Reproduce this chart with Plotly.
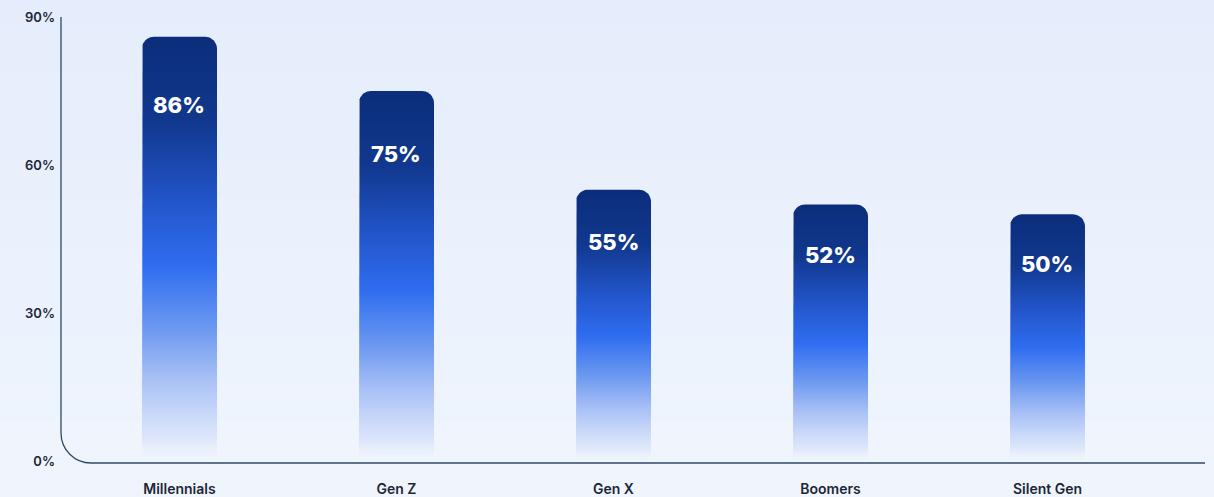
import math
import plotly.graph_objects as go

# Share of each generation (percent)
generations = ["Millennials", "Gen Z", "Gen X", "Boomers", "Silent Gen"]
shares = [86, 75, 55, 52, 50]
y_ticks = [0, 30, 60, 90]
y_tick_labels = ["0%", "30%", "60%", "90%"]

# Canvas / layout geometry
FIG_W, FIG_H = 1214, 497
M_L, M_R, M_T, M_B = 61, 9, 17, 34
PLOT_W = FIG_W - M_L - M_R
PLOT_H = FIG_H - M_T - M_B
X_RANGE = [-0.546, -0.546 + PLOT_W / 217.0]
Y_RANGE = [-0.4, 90]

px_per_x = PLOT_W / (X_RANGE[1] - X_RANGE[0])
px_per_y = PLOT_H / (Y_RANGE[1] - Y_RANGE[0])

BAR_W_PX = 75
CORNER_PX = 12
bar_w = BAR_W_PX / px_per_x
rx = CORNER_PX / px_per_x
ry = CORNER_PX / px_per_y

TEXT_DARK = "#1c2735"
AXIS_COLOR = "#2c4a68"
FONT = "Inter"

# vertical gradient: faded at the base, bright blue a bit below the middle, navy on top
BAR_SCALE = [
    [0.00, "rgba(236,242,253,0.0)"],
    [0.05, "rgba(222,231,251,1)"],
    [0.10, "rgba(205,219,249,1)"],
    [0.20, "rgba(165,190,245,1)"],
    [0.32, "rgba(105,150,240,1)"],
    [0.46, "rgba(47,109,240,1)"],
    [0.62, "rgba(34,84,200,1)"],
    [0.80, "rgba(17,56,142,1)"],
    [1.00, "rgba(11,45,123,1)"],
]

K = 0.5523  # cubic approximation of a quarter circle


def rounded_bar(xc, h):
    """Outline of a bar with rounded top corners, in data units."""
    x0, x1 = xc - bar_w / 2, xc + bar_w / 2
    xs, ys = [x0, x0], [0, h - ry]
    n = 10
    for i in range(1, n + 1):
        a = math.pi - (math.pi / 2) * i / n
        xs.append(x0 + rx + rx * math.cos(a))
        ys.append(h - ry + ry * math.sin(a))
    for i in range(0, n + 1):
        a = math.pi / 2 - (math.pi / 2) * i / n
        xs.append(x1 - rx + rx * math.cos(a))
        ys.append(h - ry + ry * math.sin(a))
    xs += [x1, x0]
    ys += [0, 0]
    return xs, ys


fig = go.Figure()

for i, (name, v) in enumerate(zip(generations, shares)):
    xs, ys = rounded_bar(i, v)
    fig.add_trace(go.Scatter(
        x=xs, y=ys, mode="lines", fill="toself",
        line=dict(width=0),
        fillgradient=dict(type="vertical", colorscale=BAR_SCALE, start=0, stop=v),
        hoverinfo="skip", showlegend=False, name=name,
    ))
    fig.add_annotation(
        x=i, y=v, xref="x", yref="y",
        text=f"{v}%", showarrow=False,
        yanchor="middle", yshift=-(25 + 0.5 * v),
        font=dict(family=FONT, size=22, color="white", weight=800),
    )

# soft vertical background wash
shapes = []
top_rgb = (229, 237, 252)
bot_rgb = (240, 245, 253)
n_bands = 40
for j in range(n_bands):
    t = j / (n_bands - 1)
    c = tuple(round(top_rgb[k] + (bot_rgb[k] - top_rgb[k]) * t) for k in range(3))
    y_top = 1 + M_T / PLOT_H - (j / n_bands) * (FIG_H / PLOT_H)
    y_bot = 1 + M_T / PLOT_H - ((j + 1) / n_bands) * (FIG_H / PLOT_H)
    shapes.append(dict(
        type="rect", xref="paper", yref="paper", layer="below",
        x0=-M_L / PLOT_W - 0.01, x1=1 + M_R / PLOT_W + 0.01,
        y0=y_bot - 0.002, y1=y_top + 0.002,
        fillcolor=f"rgb{c}", line=dict(width=0),
    ))

# axis outline with a rounded lower-left corner
R = 30
rxp, ryp = R / PLOT_W, R / PLOT_H
axis_path = (
    f"M 0 1 L 0 {ryp} "
    f"C 0 {ryp * (1 - K)} {rxp * (1 - K)} 0 {rxp} 0 "
    f"L 1 0"
)
shapes.append(dict(
    type="path", xref="paper", yref="paper", path=axis_path,
    line=dict(color=AXIS_COLOR, width=1.3), layer="above",
))

fig.update_layout(
    width=FIG_W, height=FIG_H,
    margin=dict(l=M_L, r=M_R, t=M_T, b=M_B, pad=0, autoexpand=False),
    paper_bgcolor="rgb(235,241,252)",
    plot_bgcolor="rgba(0,0,0,0)",
    shapes=shapes,
    showlegend=False,
    xaxis=dict(
        range=X_RANGE, tickvals=list(range(len(generations))), ticktext=generations,
        showgrid=False, zeroline=False, showline=False, ticks="",
        ticklabelstandoff=16, automargin=False,
        tickfont=dict(family=FONT, size=14, color=TEXT_DARK, weight=600),
        fixedrange=True,
    ),
    yaxis=dict(
        range=Y_RANGE, tickvals=y_ticks, ticktext=y_tick_labels,
        showgrid=False, zeroline=False, showline=False, ticks="",
        ticklabelstandoff=5, automargin=False,
        tickfont=dict(family=FONT, size=13, color=TEXT_DARK, weight=600),
        fixedrange=True,
    ),
)

fig.write_html("out.html")
